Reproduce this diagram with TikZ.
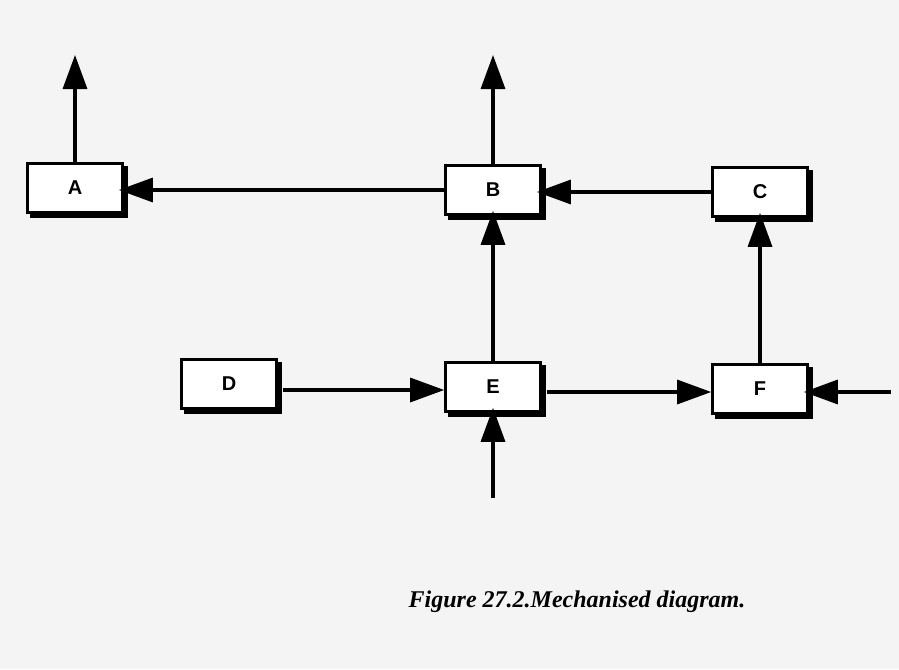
\documentclass[tikz,border=0pt]{standalone}
\usepackage{fontspec}
\setmainfont{Liberation Serif}
\newfontfamily\boxfont{Liberation Sans}
\usetikzlibrary{arrows.meta}
\definecolor{paper}{RGB}{244,244,244}
\tikzset{
  box/.style={draw=black, line width=2.6pt, fill=white, minimum width=95pt, minimum height=49pt,
    inner sep=0pt, font=\boxfont\bfseries\fontsize{20}{22}\selectfont},
  conn/.style={line width=3.2pt, -{Triangle[length=34pt,width=24pt]}},
  shadowed/.style={preaction={fill=black, draw=black, line width=2.6pt, transform canvas={shift={(4pt,-4pt)}}}}
}
\begin{document}
\begin{tikzpicture}[x=1pt,y=-1pt]
\useasboundingbox (0,0) rectangle (899,669);
\fill[paper] (0,0) rectangle (899,669);
% boxes
\node[box, shadowed] (A) at (75,188) {A};
\node[box, shadowed] (B) at (493,190) {B};
\node[box, shadowed] (C) at (760,192) {C};
\node[box, shadowed] (D) at (229,384) {D};
\node[box, shadowed] (E) at (493,387) {E};
\node[box, shadowed] (F) at (760,389) {F};
% free ends
\coordinate (Aup) at (75,55);
\coordinate (Bup) at (493,55);
\coordinate (Ein) at (493,498);
\coordinate (Fin) at ([xshift=82pt,yshift=-3pt]F.east);
\path (D.east |- E.west) ++(5,3) coordinate (Dout);
\path (E.east) ++(5,5) coordinate (Eout);
% connectors
\draw[conn] (A.north) -- (Aup);
\draw[conn] (B.north) -- (Bup);
\draw[conn, shorten >=-5pt] (B.west) -- (B.west -| A.east);
\draw[conn, shorten >=-5pt] (C.west) -- (C.west -| B.east);
\draw[conn, shorten >=-5pt] (E.north) -- (B.south);
\draw[conn, shorten >=-5pt] (F.north) -- (C.south);
\draw[conn] (Dout) -- (Dout -| E.west);
\draw[conn] (Eout) -- (Eout -| F.west);
\draw[conn, shorten >=-5pt] (Ein) -- (E.south);
\draw[conn, shorten >=-5pt] (Fin) -- (Fin -| F.east);
% caption
\node[font=\itshape\bfseries\fontsize{24}{28}\selectfont, anchor=center] (cap) at (577,602) {Figure 27.2.Mechanised diagram.};
\end{tikzpicture}
\end{document}
